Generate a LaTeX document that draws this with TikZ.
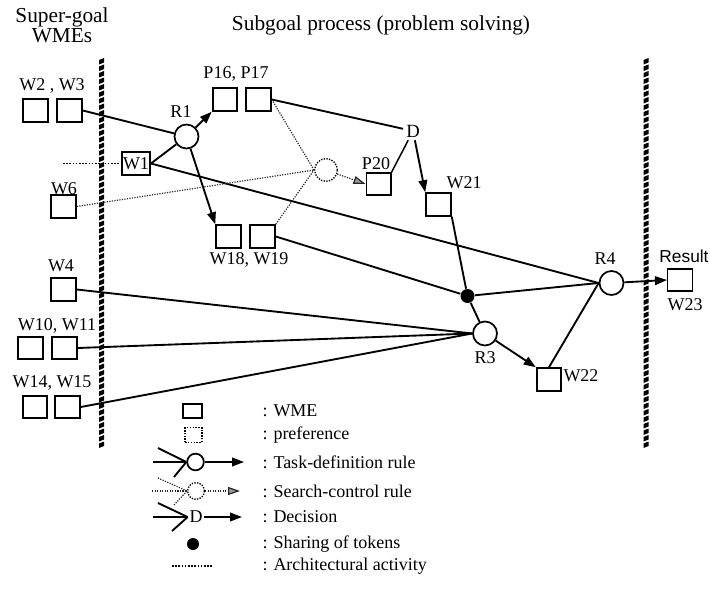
\documentclass[tikz,border=0pt]{standalone}
\usepackage{fontspec}
\setmainfont{Liberation Serif}
\newfontfamily\resultfont{Liberation Sans}
\usetikzlibrary{arrows.meta}

\tikzset{every picture/.style={line width=0.75pt}}
\tikzset{
  wme/.style={draw, line width=1.4pt, minimum width=18.5pt, minimum height=17pt, inner sep=0pt},
  prefbox/.style={draw, line width=1pt, minimum width=18.5pt, minimum height=16.5pt, inner sep=0pt},
  tdrule/.style={circle, draw, line width=1.3pt, minimum size=18pt, inner sep=0pt},
  scrule/.style={circle, draw, densely dotted, line width=1pt, minimum size=17pt, inner sep=0pt},
  sharedot/.style={circle, fill, minimum size=10.5pt, inner sep=0pt},
  lbl/.style={inner sep=0pt, font=\fontsize{13.5}{15}\selectfont},
  link/.style={line width=1.4pt},
  flow/.style={line width=1.4pt, -{Triangle[length=9pt,width=6.5pt]}},
  sctl/.style={line width=0.9pt, densely dotted, black!85},
  sflow/.style={sctl, -{Triangle[length=9pt,width=6pt,fill=black!40]}},
  arch/.style={line width=0.9pt, dash pattern=on 1.2pt off 1.2pt},
}

\begin{document}
\begin{tikzpicture}[x=0.75pt,y=0.75pt,yscale=-1,xscale=1]
	\useasboundingbox (0,0) rectangle (710,592);

	% Titles
	\node[align=center, inner sep=0pt, font=\fontsize{16}{15}\selectfont] (supertitle) at (62,25) {Super-goal\\WMEs};
	\node[inner sep=0pt, font=\fontsize{16}{18}\selectfont] (subtitle) at (381,25) {Subgoal process (problem solving)};

	% Walls
	\foreach \y in {60,66.5,...,446} {
		\fill (99,\y+4.5) -- (99,\y) -- (104,\y-2) -- (104,\y+2.5) -- cycle ;
		\fill (643.5,\y+4.5) -- (643.5,\y) -- (648.5,\y-2) -- (648.5,\y+2.5) -- cycle ;
	}

	% Super-goal WMEs
	\node[wme] (w2) at (35.5,110.5) {};
	\node[wme] (w3) at (69.5,110.5) {};
	\node[lbl] (w23lbl) at (52,86) {W2 , W3};
	\node[wme, minimum width=21pt] (w1) at (136,163.5) {\fontsize{13.5}{15}\selectfont W1};
	\coordinate (archstart) at (63,163.5);
	\node[wme] (w6) at (63.5,206.5) {};
	\node[lbl] (w6lbl) at (64,189) {W6};
	\node[wme] (w4) at (63.5,289.5) {};
	\node[lbl] (w4lbl) at (61,266) {W4};
	\node[wme] (w10) at (30.5,348) {};
	\node[wme] (w11) at (64.5,348) {};
	\node[lbl] (w1011lbl) at (57,326) {W10, W11};
	\node[wme] (w14) at (35,407) {};
	\node[wme] (w15) at (67.5,407) {};
	\node[lbl] (w1415lbl) at (52,383) {W14, W15};

	% Subgoal process
	\node[tdrule] (r1) at (186.5,136.5) {};
	\node[lbl] (r1lbl) at (181,112) {R1};
	\node[wme] (p16) at (225,99.5) {};
	\node[wme] (p17) at (258.5,99.5) {};
	\node[lbl] (p1617lbl) at (236,74) {P16, P17};
	\node[wme] (w18) at (228.5,236.5) {};
	\node[wme] (w19) at (262.5,236.5) {};
	\node[lbl] (w1819lbl) at (249,260) {W18, W19};
	\node[scrule] (sc) at (326,170) {};
	\node[prefbox] (p20) at (378.5,184) {};
	\node[lbl] (p20lbl) at (376,164) {P20};
	\node[inner sep=2pt, font=\fontsize{14}{15}\selectfont] (d) at (413,131) {D};
	\node[wme] (w21) at (438.5,204.5) {};
	\node[lbl] (w21lbl) at (464,183) {W21};
	\node[sharedot] (dot) at (467.5,296) {};
	\node[tdrule] (r3) at (485,333.5) {};
	\node[lbl] (r3lbl) at (485,358) {R3};
	\node[wme] (w22) at (549,379.5) {};
	\node[lbl, anchor=west] (w22lbl) at (563,376) {W22};
	\node[tdrule] (r4) at (611.5,283) {};
	\node[lbl] (r4lbl) at (605,259) {R4};
	\node[prefbox] (w23) at (680,280) {};
	\node[inner sep=0pt, font=\resultfont\fontsize{13}{15}\selectfont] (resultlbl) at (684,256) {Result};
	\node[lbl] (w23lbl) at (685,305) {W23};

	% Task-definition connectors
	\draw[link] (w3.east) -- (r1) ;
	\draw[link] (w1.east) -- (r1) ;
	\draw[flow] (r1) -- (p16.south west) ;
	\draw[flow] (r1) -- (w18.north west) ;
	\draw[link] (w1.east) -- (r4.west) ;
	\draw[link] (p17.east) -- (d) ;
	\draw[line width=1.1pt] (d) -- (p20.north east) ;
	\draw[flow] (d) -- (w21.north west) ;
	\draw[link] (w19.east) -- (dot) ;
	\draw[link] (w21.south east) -- (dot) ;
	\draw[link] (dot) -- (r3) ;
	\draw[link] (dot) -- (r4.west) ;
	\draw[link] (w4.east) -- (r3.west) ;
	\draw[link] (w11.east) -- (r3.west) ;
	\draw[link] (w15.east) -- (r3.west) ;
	\draw[flow] (r3) -- (w22.north west) ;
	\draw[link] (w22.north) -- (r4.west) ;
	\draw[flow] (r4) -- (w23.west) ;

	% Search-control connectors
	\draw[sctl] (p17.east) -- (sc.west) ;
	\draw[sctl] (w19.north east) -- (sc.west) ;
	\draw[sctl] (w6.east) -- (sc.west) ;
	\draw[sflow] (sc) -- (p20.west) ;

	% Architectural activity
	\draw[arch] (archstart) -- (w1.west) ;

	% Legend
	\node[wme, minimum width=14pt, minimum height=10.5pt] (lgwme) at (192.5,411) {};
	\node[lbl, anchor=west] (lgwmetxt) at (262,411) {: WME};
	\node[draw, densely dotted, line width=1.1pt, minimum width=12.5pt, minimum height=11pt, inner sep=0pt] (lgpref) at (193.5,435) {};
	\node[lbl, anchor=west] (lgpreftxt) at (262,435) {: preference};

	\node[tdrule, minimum size=12.5pt] (lgtask) at (195.5,462) {};
	\coordinate (lgtaskA) at (158,448);
	\coordinate (lgtaskB) at (153,462);
	\coordinate (lgtaskC) at (174,477);
	\coordinate (lgtaskD) at (244,462);
	\draw[link] (lgtaskA) -- (lgtask.west) ;
	\draw[link] (lgtaskB) -- (lgtask.west) ;
	\draw[link] (lgtaskC) -- (lgtask.west) ;
	\draw[flow] (lgtask) -- (lgtaskD) ;
	\node[lbl, anchor=west] (lgtasktxt) at (262,462) {: Task-definition rule};

	\node[scrule, minimum size=12.5pt] (lgsc) at (196,491) {};
	\coordinate (lgscA) at (158,478);
	\coordinate (lgscB) at (152,491);
	\coordinate (lgscC) at (174,505);
	\coordinate (lgscD) at (240,491);
	\draw[sctl] (lgscA) -- (lgsc.west) ;
	\draw[sctl] (lgscB) -- (lgsc.west) ;
	\draw[sctl] (lgscC) -- (lgsc.west) ;
	\draw[sflow] (lgsc) -- (lgscD) ;
	\node[lbl, anchor=west] (lgsctxt) at (262,491) {: Search-control rule};

	\node[inner sep=1pt, font=\fontsize{13.5}{15}\selectfont] (lgdec) at (196,517) {D};
	\coordinate (lgdecA) at (158,503);
	\coordinate (lgdecB) at (153,517);
	\coordinate (lgdecC) at (172,531);
	\coordinate (lgdecD) at (242,517);
	\draw[link] (lgdecA) -- (lgdec.west) ;
	\draw[link] (lgdecB) -- (lgdec.west) ;
	\draw[link] (lgdecC) -- (lgdec.west) ;
	\draw[flow] (lgdec) -- (lgdecD) ;
	\node[lbl, anchor=west] (lgdectxt) at (262,517) {: Decision};

	\node[sharedot, minimum size=9pt] (lgdot) at (193,544) {};
	\node[lbl, anchor=west] (lgdottxt) at (262,544) {: Sharing of tokens};

	\coordinate (lgarchA) at (172,566);
	\coordinate (lgarchB) at (212,566);
	\draw[arch] (lgarchA) -- (lgarchB) ;
	\node[lbl, anchor=west] (lgarchtxt) at (262,566) {: Architectural activity};

\end{tikzpicture}
\end{document}
